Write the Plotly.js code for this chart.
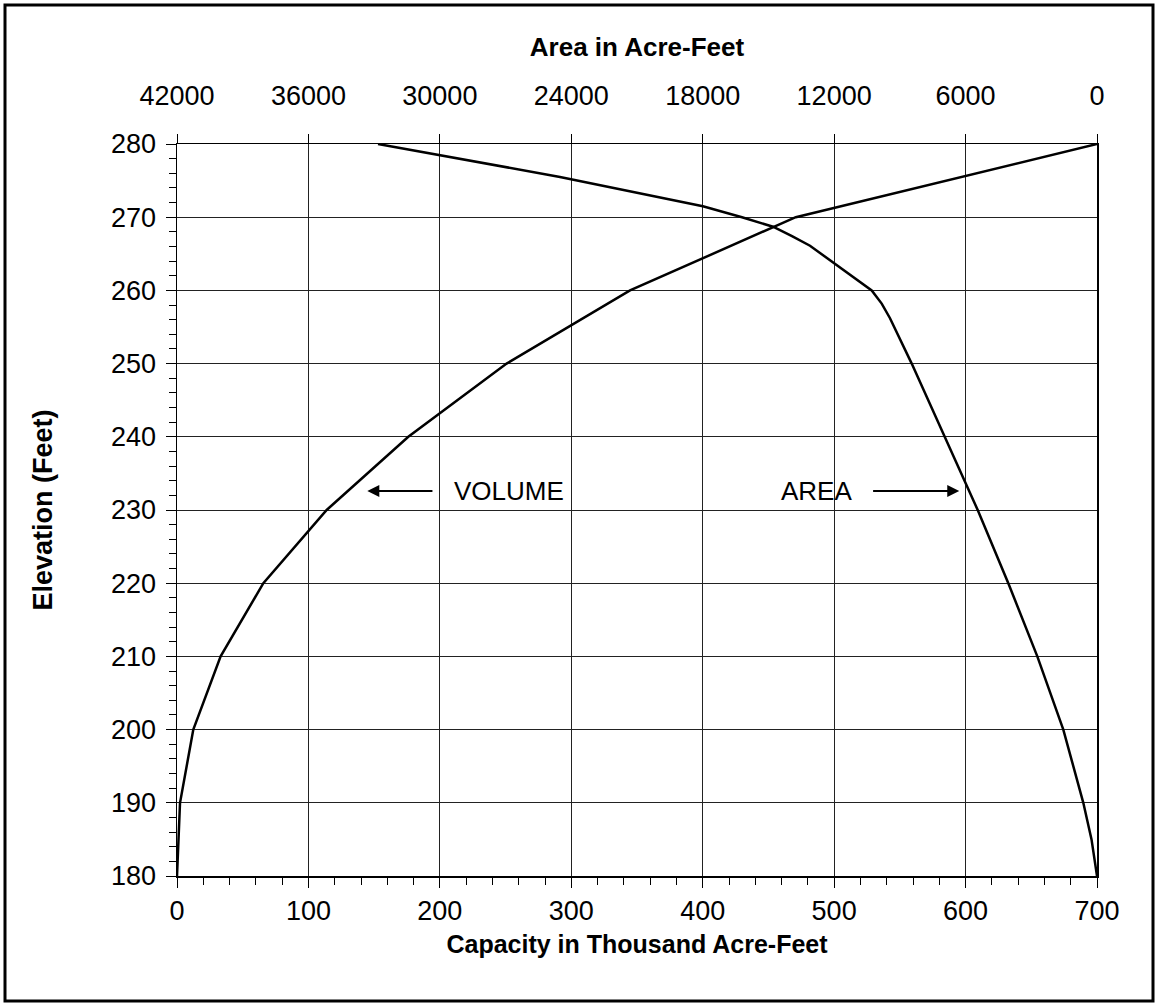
<!DOCTYPE html>
<html>
<head>
<meta charset="utf-8">
<script src="https://cdn.plot.ly/plotly-3.0.1.min.js"></script>
<style>
  html, body { margin: 0; padding: 0; background: #fff; }
  #chart { width: 1160px; height: 1005px; }
</style>
</head>
<body>
<div id="chart"></div>
<script>
// Volume (capacity) curve: elevation (ft) vs capacity (thousand acre-feet)
const volumeElevation = [180, 190, 200, 210, 220, 230, 240, 250, 260, 270, 280];
const volumeCapacity  = [0, 2.3, 12.4, 33.2, 65.7, 113.9, 176, 250.8, 344.7, 470.8, 700];

// Area curve: elevation (ft) vs area (labelled "Acre-Feet")
const areaElevation = [180, 185, 190, 200, 210, 220, 230, 240, 250, 256.2, 258.2, 260, 263.9, 266.1, 267.4, 268.7, 270, 271.5, 275.5, 278.5, 280];
const areaValues    = [0, 250, 625, 1538, 2725, 4049, 5446, 6939, 8459, 9450, 9829, 10285, 12052, 13102, 13924, 14791, 16207, 17991, 24515, 29993, 32824];

// Axis ticks
const capacityTicks = [0, 100, 200, 300, 400, 500, 600, 700];
const areaTicks = [42000, 36000, 30000, 24000, 18000, 12000, 6000, 0];
const elevationTicks = [180, 190, 200, 210, 220, 230, 240, 250, 260, 270, 280];

// Labels
const titleTop = "Area in Acre-Feet";
const titleBottom = "Capacity in Thousand Acre-Feet";
const titleLeft = "Elevation (Feet)";
const volumeLabel = "VOLUME";
const areaLabel = "AREA";

const FONT = "Arial, 'Liberation Sans', sans-serif";

const traces = [
  {
    x: volumeCapacity, y: volumeElevation, type: "scatter", mode: "lines",
    name: "Volume", xaxis: "x", yaxis: "y",
    line: { color: "#000", width: 2.5 }, hoverinfo: "x+y"
  },
  {
    x: areaValues, y: areaElevation, type: "scatter", mode: "lines",
    name: "Area", xaxis: "x2", yaxis: "y",
    line: { color: "#000", width: 2.5 }, hoverinfo: "x+y"
  }
];

// plot area geometry (px)
const L = 177, R = 63, T = 144, B = 129;
const W = 1160 - L - R, H = 1005 - T - B;
function px2paperX(px) { return (px - L) / W; }
function px2paperY(py) { return (1005 - B - py) / H; }

const layout = {
  width: 1160, height: 1005,
  margin: { l: L, r: R, t: T, b: B, pad: 0 },
  paper_bgcolor: "#fff", plot_bgcolor: "#fff",
  showlegend: false,
  font: { family: FONT, size: 27, color: "#000" },
  xaxis: {
    range: [0, 700], tickvals: capacityTicks, ticktext: capacityTicks.map(String),
    showline: true, linecolor: "#000", linewidth: 1.5,
    ticks: "outside", ticklen: 10, tickwidth: 1, tickcolor: "#000",
    minor: { dtick: 20, ticks: "outside", ticklen: 7, tickwidth: 1, tickcolor: "#000", showgrid: false },
    showgrid: true, gridcolor: "#222", gridwidth: 1,
    zeroline: false, tickfont: { family: FONT, size: 27 },
    ticklabelstandoff: 0,
    title: { text: titleBottom, font: { family: FONT, size: 25, weight: "bold" }, standoff: 10 },
    automargin: false
  },
  xaxis2: {
    overlaying: "x", side: "top", anchor: "y",
    range: [42000, 0], tickvals: areaTicks, ticktext: areaTicks.map(String),
    showline: true, linecolor: "#000", linewidth: 1.5,
    ticks: "outside", ticklen: 9, tickwidth: 1, tickcolor: "#000",
    showgrid: false, zeroline: false, tickfont: { family: FONT, size: 27 },
    ticklabelstandoff: 18,
    title: { text: titleTop, font: { family: FONT, size: 26, weight: "bold" }, standoff: 16 },
    automargin: false
  },
  yaxis: {
    range: [180, 280], tickvals: elevationTicks, ticktext: elevationTicks.map(String),
    showline: true, linecolor: "#000", linewidth: 1.5, mirror: true,
    ticks: "outside", ticklen: 10, tickwidth: 1, tickcolor: "#000",
    minor: { dtick: 2, ticks: "outside", ticklen: 7, tickwidth: 1, tickcolor: "#000", showgrid: false },
    showgrid: true, gridcolor: "#222", gridwidth: 1,
    zeroline: false, tickfont: { family: FONT, size: 27 },
    ticklabelstandoff: 4,
    title: { text: titleLeft, font: { family: FONT, size: 27, weight: "bold" }, standoff: 50 },
    automargin: false
  },
  shapes: [
    {
      type: "rect", xref: "paper", yref: "paper",
      x0: px2paperX(5), x1: px2paperX(1153), y0: px2paperY(1001), y1: px2paperY(5),
      line: { color: "#000", width: 3 }, fillcolor: "rgba(0,0,0,0)", layer: "above"
    }
  ],
  annotations: [
    // VOLUME arrow
    { x: 144.8, y: 232.6, xref: "x", yref: "y", ax: 195.5, ay: 232.6, axref: "x", ayref: "y",
      text: "", showarrow: true, arrowhead: 2, arrowsize: 1.2, arrowwidth: 2, arrowcolor: "#000" },
    { x: 209.2, y: 232.6, xref: "x", yref: "y", text: volumeLabel, showarrow: false,
      xanchor: "left", yanchor: "middle", font: { family: FONT, size: 26, color: "#000" } },
    // AREA arrow
    { x: 595.2, y: 232.6, xref: "x", yref: "y", ax: 528.5, ay: 232.6, axref: "x", ayref: "y",
      text: "", showarrow: true, arrowhead: 2, arrowsize: 1.2, arrowwidth: 2, arrowcolor: "#000" },
    { x: 458.0, y: 232.6, xref: "x", yref: "y", text: areaLabel, showarrow: false,
      xanchor: "left", yanchor: "middle", font: { family: FONT, size: 26, color: "#000" } }
  ]
};

Plotly.newPlot("chart", traces, layout, { staticPlot: true, displayModeBar: false });
</script>
</body>
</html>
